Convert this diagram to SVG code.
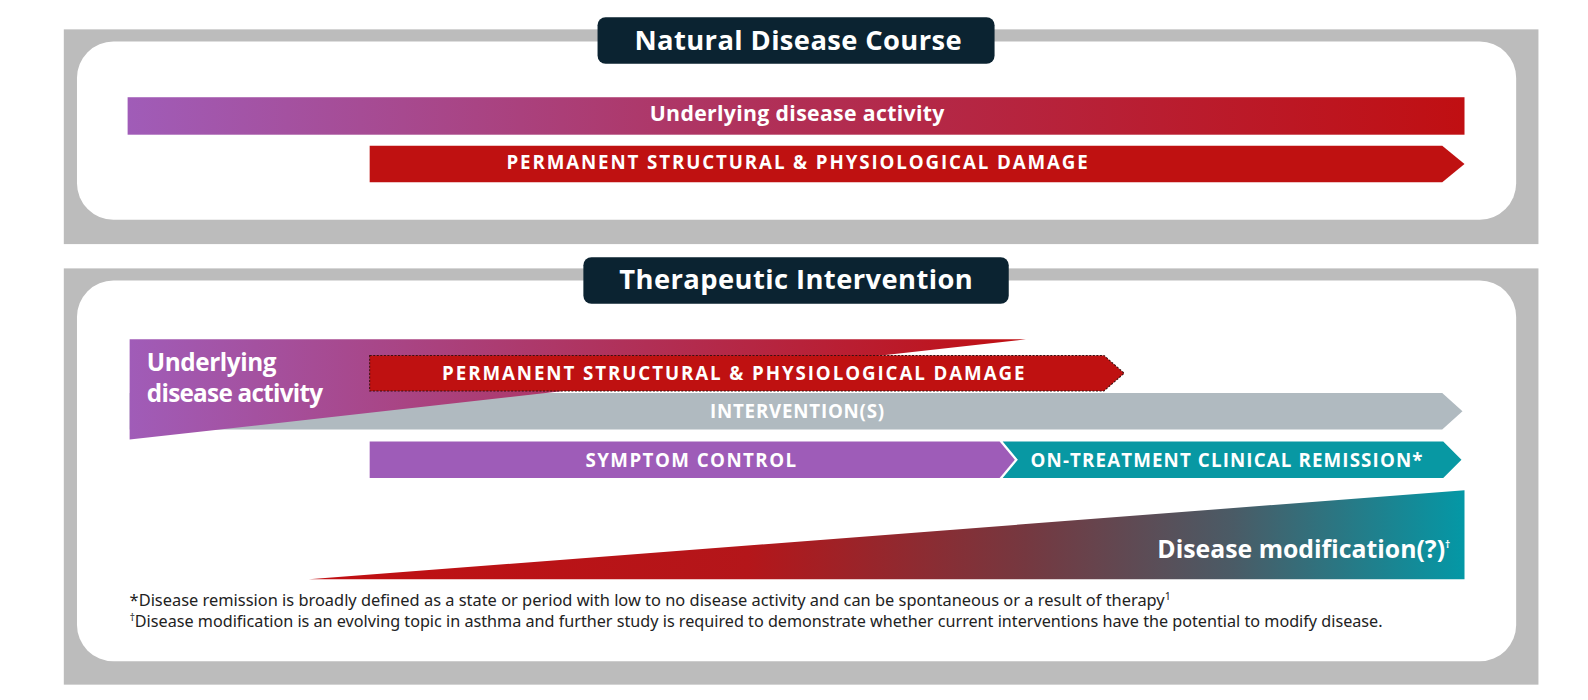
<svg xmlns="http://www.w3.org/2000/svg" width="1588" height="700" viewBox="0 0 1588 700">
<defs>
<linearGradient id="gTop" x1="126" y1="0" x2="1446" y2="0" gradientUnits="userSpaceOnUse">
<stop offset="0" stop-color="#a05cb8"/>
<stop offset="0.5" stop-color="#b12e54"/>
<stop offset="1" stop-color="#c00f12"/>
</linearGradient>
<linearGradient id="gWedge" x1="128" y1="0" x2="1013" y2="0" gradientUnits="userSpaceOnUse">
<stop offset="0" stop-color="#a05cb8"/>
<stop offset="0.55" stop-color="#b0315a"/>
<stop offset="1" stop-color="#c00f12"/>
</linearGradient>
<linearGradient id="gMod" x1="305" y1="0" x2="1446" y2="0" gradientUnits="userSpaceOnUse">
<stop offset="0" stop-color="#c00f12"/>
<stop offset="0.38" stop-color="#b4161a"/>
<stop offset="0.62" stop-color="#753840"/>
<stop offset="0.8" stop-color="#4a5b66"/>
<stop offset="1" stop-color="#0498a6"/>
</linearGradient>
<style>
.panel{fill:#bcbcbc}
.inner{fill:#ffffff}
.title{fill:#0b2331}
.tt{font-family:"Open Sans","Liberation Sans",sans-serif;font-weight:700;font-size:27px;fill:#fff;text-anchor:middle}
.lbl{font-family:"Open Sans","Liberation Sans",sans-serif;font-weight:700;fill:#fff}
.cap{font-size:18.5px;text-anchor:middle}
.note{font-family:"Noto Sans","Liberation Sans",sans-serif;font-size:15.5px;fill:#222}
.sup{font-size:10px}
</style>
</defs>
<g transform="scale(1.0128)">
<g id="panel-natural">
<rect class="panel" x="63" y="29" width="1456" height="212"/>
<rect class="inner" x="76" y="41" width="1421" height="176" rx="36"/>
</g>
<g id="title-natural">
<rect class="title" x="590" y="17" width="392" height="46" rx="8"/>
<text class="tt" x="788" y="49" textLength="323">Natural Disease Course</text>
</g>
<g id="bar-activity-top">
<rect x="126" y="96" width="1320" height="37" fill="url(#gTop)"/>
<text class="lbl" x="787" y="119" font-size="21" text-anchor="middle" textLength="291">Underlying disease activity</text>
</g>
<g id="arrow-damage-top">
<polygon points="365,144 1424,144 1446,162 1424,180 365,180" fill="#bf1111"/>
<text class="lbl cap" x="787" y="167" textLength="574">PERMANENT STRUCTURAL &amp; PHYSIOLOGICAL DAMAGE</text>
</g>

<g id="panel-therapeutic">
<rect class="panel" x="63" y="265" width="1456" height="411"/>
<rect class="inner" x="76" y="277" width="1421" height="376" rx="36"/>
</g>
<g id="title-therapeutic">
<rect class="title" x="576" y="254" width="420" height="46" rx="8"/>
<text class="tt" x="786" y="285" textLength="349">Therapeutic Intervention</text>
</g>
<g id="arrow-interventions">
<polygon points="128,388 1424,388 1444,406 1424,424 128,424" fill="#b0bac0"/>
<text class="lbl cap" x="787" y="413" textLength="172">INTERVENTION(S)</text>
</g>
<g id="wedge-activity">
<polygon points="128,335 1013,335 128,434" fill="url(#gWedge)"/>
<text class="lbl" x="145" y="366" font-size="24" textLength="128">Underlying</text>
<text class="lbl" x="145" y="397" font-size="24" textLength="174">disease activity</text>
</g>
<g id="arrow-damage">
<polygon points="365,351 1090,351 1110,368.5 1090,386 365,386" fill="#bf1111" stroke="#3a1010" stroke-width="1" stroke-dasharray="2,1.5"/>
<text class="lbl cap" x="724" y="375" textLength="575">PERMANENT STRUCTURAL &amp; PHYSIOLOGICAL DAMAGE</text>
</g>
<g id="arrow-symptom">
<polygon points="365,436 987,436 1002,454 987,472 365,472" fill="#9e5cb8"/>
<text class="lbl cap" x="682" y="461" textLength="208">SYMPTOM CONTROL</text>
</g>
<g id="arrow-remission">
<polygon points="990,436 1425,436 1443,454 1425,472 990,472 1005,454" fill="#0898a3"/>
<text class="lbl cap" x="1211" y="461" textLength="387">ON-TREATMENT CLINICAL REMISSION*</text>
</g>
<g id="wedge-modification">
<polygon points="305,572 1446,484 1446,572" fill="url(#gMod)"/>
<text class="lbl" x="1432" y="551" font-size="24.5" text-anchor="end">Disease modification(?)<tspan class="sup" dy="-10">†</tspan></text>
</g>
<g id="footnotes">
<text class="note" x="128" y="598" textLength="1028" lengthAdjust="spacingAndGlyphs">*Disease remission is broadly defined as a state or period with low to no disease activity and can be spontaneous or a result of therapy<tspan class="sup" dy="-6">1</tspan></text>
<text class="note" x="128" y="619"><tspan class="sup" dy="-6">†</tspan><tspan dy="6" textLength="1232" lengthAdjust="spacingAndGlyphs">Disease modification is an evolving topic in asthma and further study is required to demonstrate whether current interventions have the potential to modify disease.</tspan></text>
</g>
<g id="connectors"/>
</g>
</svg>
